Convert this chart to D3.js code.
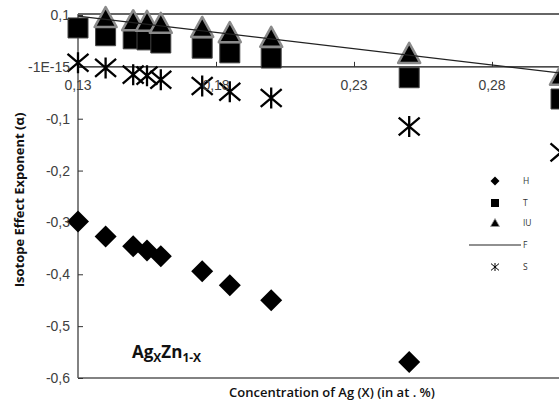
<!DOCTYPE html>
<html><head><meta charset="utf-8">
<script src="https://cdn.jsdelivr.net/npm/d3@7"></script>
<style>body{margin:0;background:#fff}svg{display:block}</style>
</head><body>
<svg id="c" width="559" height="417"></svg>
<script>
// ---- data ----
const xH = [0.13,0.14,0.15,0.155,0.16,0.175,0.185,0.20,0.25];
const H  = [-0.298,-0.327,-0.346,-0.354,-0.365,-0.394,-0.421,-0.45,-0.569];
const xT = [0.13,0.14,0.15,0.155,0.16,0.175,0.185,0.20,0.25,0.305];
const T  = [0.075,0.06,0.054,0.052,0.046,0.036,0.027,0.017,-0.021,-0.062];
const xIU = [0.14,0.15,0.155,0.16,0.175,0.185,0.20,0.25,0.305];
const IU  = [0.094,0.088,0.087,0.083,0.075,0.065,0.056,0.025,-0.017];
const xF = [0.13,0.305];
const F  = [0.098,-0.012];
const xS = [0.13,0.14,0.15,0.155,0.16,0.175,0.185,0.20,0.25,0.305];
const S  = [0.008,-0.002,-0.015,-0.017,-0.025,-0.037,-0.048,-0.06,-0.115,-0.165];
const seriesNames = ["H","T","IU","F","S"];
const yTicks = [0.1,0,-0.1,-0.2,-0.3,-0.4,-0.5,-0.6];
const yTickLabels = ["0,1","-1E-15","-0,1","-0,2","-0,3","-0,4","-0,5","-0,6"];
const xTicks = [0.13,0.18,0.23,0.28];
const xTickLabels = ["0,13","0,18","0,23","0,28"];

// ---- layout ----
const svg = d3.select("#c");
const x = d3.scaleLinear().domain([0.13,0.33]).range([78,630]);
const y = d3.scaleLinear().domain([-0.6,0.1]).range([378,15]);
const zip = (a,b)=>a.map((v,i)=>[v,b[i]]);

// frame
svg.append("line").attr("x1",78).attr("x2",640).attr("y1",14).attr("y2",14).attr("stroke","#333").attr("stroke-width",1.3);
svg.append("line").attr("x1",78).attr("x2",640).attr("y1",y(-0.6)).attr("y2",y(-0.6)).attr("stroke","#595959").attr("stroke-width",1.5);
svg.append("line").attr("x1",78).attr("x2",78).attr("y1",14).attr("y2",y(-0.6)).attr("stroke","#595959").attr("stroke-width",1.5);
// x axis at zero
const xAxis = d3.axisBottom(x).tickValues(xTicks).tickSize(0).tickFormat("");
const gx = svg.append("g").attr("transform",`translate(0,${y(0)})`).call(xAxis);
gx.select(".domain").attr("stroke","#111").attr("stroke-width",1.2).attr("d",`M78,0H640`);
gx.selectAll(".tick").append("line").attr("y1",0).attr("y2",-5).attr("stroke","#333");
// y axis ticks (inside)
const yAxis = d3.axisLeft(y).tickValues(yTicks).tickSize(0).tickFormat("");
const gy = svg.append("g").attr("transform","translate(78,0)").call(yAxis);
gy.select(".domain").remove();
gy.selectAll(".tick").append("line").attr("x1",0).attr("x2",5).attr("stroke","#333");

// markers
const diamond = "M0,-11L11,0L0,11L-11,0Z";
const square = "M-10,-10H10V10H-10Z";
const tri = "M0,-11L11,9L-11,9Z";
const star = r => `M0,${-r}V${r}M${-r},${-r*0.85}L${r},${r*0.85}M${-r},${r*0.85}L${r},${-r*0.85}`;

svg.append("g").selectAll("path").data(zip(xH,H)).join("path")
  .attr("d",diamond).attr("transform",d=>`translate(${x(d[0])},${y(d[1])})`).attr("fill","#000");
svg.append("g").selectAll("path").data(zip(xT,T)).join("path")
  .attr("d",square).attr("transform",d=>`translate(${x(d[0])},${y(d[1])})`).attr("fill","#000").attr("stroke","#444").attr("stroke-width",1);
svg.append("g").selectAll("path").data(zip(xIU,IU)).join("path")
  .attr("d",tri).attr("transform",d=>`translate(${x(d[0])},${y(d[1])})`).attr("fill","#000").attr("stroke","#8a8a8a").attr("stroke-width",2.5).attr("stroke-linejoin","round");
svg.append("path").datum(zip(xF,F)).attr("d",d3.line().x(d=>x(d[0])).y(d=>y(d[1])))
  .attr("fill","none").attr("stroke","#222").attr("stroke-width",1.2);
svg.append("g").selectAll("path").data(zip(xS,S)).join("path")
  .attr("d",star(10.5)).attr("transform",d=>`translate(${x(d[0])},${y(d[1])})`).attr("fill","none").attr("stroke","#000").attr("stroke-width",2.3);

// tick labels
const tf = "'Liberation Sans', Arial, sans-serif";
svg.append("g").selectAll("text").data(yTicks).join("text")
  .attr("x",70).attr("y",d=>y(d)).attr("dy","0.36em").attr("text-anchor","end")
  .attr("font-family",tf).attr("font-size",14).attr("fill","#404040").text((d,i)=>yTickLabels[i]);
svg.append("g").selectAll("text").data(xTicks).join("text")
  .attr("x",d=>x(d)).attr("y",y(0)+23).attr("text-anchor","middle")
  .attr("font-family",tf).attr("font-size",14).attr("fill","#404040").text((d,i)=>xTickLabels[i]);

// titles
svg.append("text").attr("transform","translate(24,200) rotate(-90)").attr("text-anchor","middle")
  .attr("font-family","'Open Sans', sans-serif").attr("font-weight","bold").attr("font-size",13).attr("fill","#111")
  .text("Isotope Effect Exponent (α)");
svg.append("text").attr("x",332).attr("y",397).attr("text-anchor","middle")
  .attr("font-family","'Open Sans', sans-serif").attr("font-weight",600).attr("font-size",13).attr("fill","#111")
  .text("Concentration of Ag (X) (in at . %)");
const lab = svg.append("text").attr("x",132).attr("y",358)
  .attr("font-family","'Open Sans', sans-serif").attr("font-weight","bold").attr("font-size",17).attr("fill","#111");
lab.append("tspan").text("Ag");
lab.append("tspan").attr("font-size",12).attr("dy",4).text("X");
lab.append("tspan").attr("dy",-4).text("Zn");
lab.append("tspan").attr("font-size",12).attr("dy",4).text("1-X");

// legend
const legY = [181,203,223,245,267];
const lg = svg.append("g");
const lm = [
  g=>g.append("path").attr("d","M0,-4.5L4.5,0L0,4.5L-4.5,0Z").attr("fill","#000"),
  g=>g.append("path").attr("d","M-4,-4H4V4H-4Z").attr("fill","#000"),
  g=>g.append("path").attr("d","M0,-4.5L4.5,3.5L-4.5,3.5Z").attr("fill","#000").attr("stroke","#999").attr("stroke-width",0.8),
  g=>g.append("line").attr("x1",-26).attr("x2",26).attr("stroke","#222").attr("stroke-width",1.2),
  g=>g.append("path").attr("d",star(4)).attr("fill","none").attr("stroke","#000").attr("stroke-width",1)
];
seriesNames.forEach((n,i)=>{
  const g = lg.append("g").attr("transform",`translate(495,${legY[i]})`);
  lm[i](g);
  g.append("text").attr("x",28).attr("dy","0.35em").attr("font-family","'Open Sans', sans-serif")
   .attr("font-size",8.5).attr("fill","#333").text(n);
});
</script>
</body></html>
